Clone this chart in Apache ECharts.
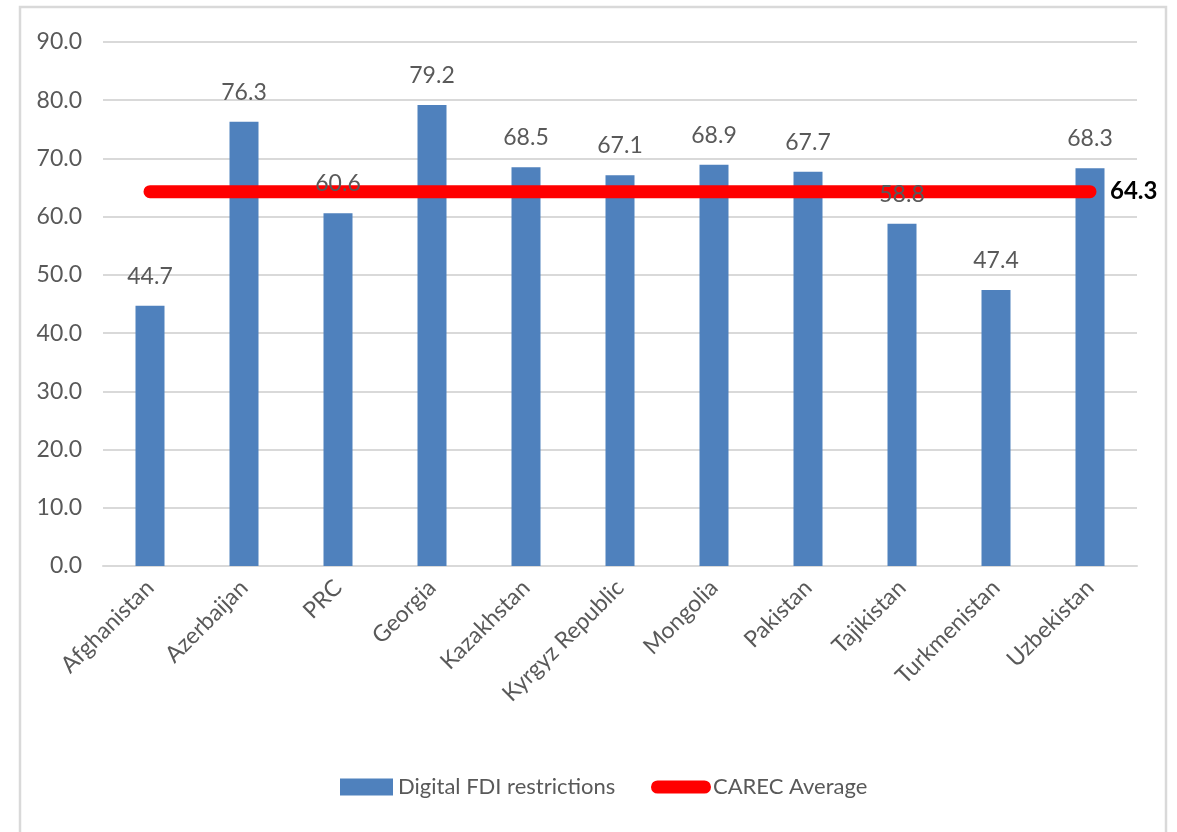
<!DOCTYPE html>
<html>
<head>
<meta charset="utf-8">
<script src="https://cdn.jsdelivr.net/npm/echarts@6/dist/echarts.min.js"></script>
<style>
  html, body { margin: 0; padding: 0; background: #fff; }
  #chart { width: 1177px; height: 832px; }
</style>
</head>
<body>
<div id="chart"></div>
<script>
// Digital FDI restriction scores by CAREC member, with the group average
const countries = ['Afghanistan', 'Azerbaijan', 'PRC', 'Georgia', 'Kazakhstan', 'Kyrgyz Republic',
  'Mongolia', 'Pakistan', 'Tajikistan', 'Turkmenistan', 'Uzbekistan'];
const restrictions = [44.7, 76.3, 60.6, 79.2, 68.5, 67.1, 68.9, 67.7, 58.8, 47.4, 68.3];
const carecAverage = 64.3;
const yTicks = { min: 0, max: 90, step: 10 };

const FONT = "Lato, 'Open Sans', sans-serif";
const GREY = '#595959';
const FS = 23;

const chart = echarts.init(document.getElementById('chart'), null, { renderer: 'canvas' });

chart.setOption({
  animation: false,
  backgroundColor: '#fff',
  textStyle: { fontFamily: FONT },
  graphic: [{
    type: 'rect',
    shape: { x: 20, y: 7, width: 1146, height: 840 },
    style: { fill: 'none', stroke: '#d9d9d9', lineWidth: 2.5 },
    silent: true
  }],
  grid: { left: 103, right: 40, top: 42, bottom: 266, containLabel: false },
  legend: [{
    data: ['Digital FDI restrictions'],
    left: 335, top: 771,
    itemWidth: 53, itemHeight: 17, itemGap: 5,
    icon: 'rect',
    textStyle: { color: GREY, fontSize: 22, fontFamily: FONT, padding: [0, 0, 0, 0] }
  }, {
    data: ['CAREC Average'],
    left: 646, top: 771,
    itemWidth: 60, itemHeight: 17, itemGap: 5,
    icon: 'path://M7,0 H57 A7,7 0 0 1 57,14 H7 A7,7 0 0 1 7,0 Z',
    textStyle: { color: GREY, fontSize: 22, fontFamily: FONT, padding: [0, 0, 0, -3] }
  }],
  xAxis: {
    type: 'category',
    data: countries,
    axisLine: { show: true, lineStyle: { color: '#d9d9d9', width: 2 } },
    axisTick: { show: false },
    axisLabel: {
      rotate: 45, interval: 0, margin: 18,
      color: GREY, fontSize: FS, fontFamily: FONT
    }
  },
  yAxis: {
    type: 'value',
    min: yTicks.min, max: yTicks.max, interval: yTicks.step,
    axisLine: { show: false },
    axisTick: { show: false },
    splitLine: { lineStyle: { color: '#d9d9d9', width: 2 } },
    axisLabel: {
      margin: 21, color: GREY, fontSize: FS, fontFamily: FONT,
      formatter: v => v.toFixed(1)
    }
  },
  series: [{
    name: 'Digital FDI restrictions',
    type: 'bar',
    data: restrictions,
    barWidth: 29,
    z: 2,
    itemStyle: { color: '#4f81bd' }
  }, {
    name: 'CAREC Average',
    type: 'line',
    data: countries.map(() => carecAverage),
    symbol: 'none',
    z: 3,
    itemStyle: { color: '#ff0000' },
    lineStyle: { color: '#ff0000', width: 13, cap: 'round' },
    endLabel: {
      show: true,
      formatter: () => carecAverage.toFixed(1),
      color: '#000', fontWeight: 'bold', fontSize: 24, fontFamily: FONT,
      distance: 20
    }
  }, {
    // value labels drawn above the average line
    name: 'labels',
    type: 'bar',
    data: restrictions,
    barWidth: 29,
    barGap: '-100%',
    z: 4,
    itemStyle: { color: 'rgba(0,0,0,0)' },
    label: {
      show: true, position: 'top', distance: 18,
      color: GREY, fontSize: FS, fontFamily: FONT,
      formatter: p => p.value.toFixed(1)
    },
    silent: true
  }]
});
</script>
</body>
</html>
